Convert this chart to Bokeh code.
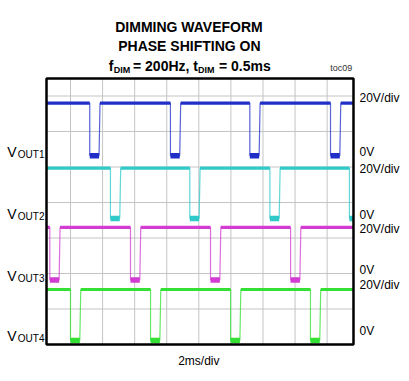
from bokeh.plotting import figure
from bokeh.models import Range1d
from bokeh.core.properties import value
from bokeh.embed import file_html
from bokeh.resources import INLINE

# ---------------- data ----------------
channel_names = ["OUT1", "OUT2", "OUT3", "OUT4"]
trace_colors = ["#1f2fc8", "#2fc9c9", "#d23cd2", "#33e033"]
ground_div = [5.32, 3.55, 1.82, 0.11]      # 0V reference of each trace (screen divisions)
high_volts = [29.6, 28.4, 29.6, 28.8]      # high level of each trace (V)
fall_ms = [                                # falling edges (ms, relative to first grid line)
    [1.20, 6.23, 11.18, 16.21],
    [2.49, 7.44, 12.43, 17.39],
    [-1.29, 3.74, 8.73, 13.72],
    [0.00, 4.99, 9.98, 14.96],
]
low_ms = 0.58                              # time spent at 0V per dimming pulse
rise_ms = 0.06
volts_per_div = 20
ms_per_div = 2
x_grid_ms = [0, 2, 4, 6, 8, 10, 12, 14, 16]
y_grid_div = [1, 2, 3, 4, 5, 6, 7]
scope_x = (-1.496, 17.643)                 # visible screen of the scope (ms)
scope_y = (0.0, 7.493)                     # visible screen of the scope (div)

# ---------------- layout (canvas pixels) ----------------
W, H = 405, 377
PX_PER_MS, PX_PER_DIV = 16.04, 35.5
X0_PX, Y0_PX = 70, 344                     # pixel of x=0 ms and y=0 div

p = figure(width=W, height=H, output_backend="svg", toolbar_location=None,
           x_axis_location=None, y_axis_location=None, title=None,
           x_range=Range1d(-X0_PX / PX_PER_MS, (W - X0_PX) / PX_PER_MS),
           y_range=Range1d((Y0_PX - H) / PX_PER_DIV, Y0_PX / PX_PER_DIV),
           min_border=0)
p.outline_line_color = None
p.background_fill_color = "white"
p.border_fill_color = "white"
p.grid.visible = False


def px_x(px):
    return (px - X0_PX) / PX_PER_MS


def px_y(py):
    return (Y0_PX - py) / PX_PER_DIV


xs0, xs1 = scope_x
ys0, ys1 = scope_y

# grid
p.segment(x0=x_grid_ms, y0=[ys0] * len(x_grid_ms), x1=x_grid_ms, y1=[ys1] * len(x_grid_ms),
          line_color="#c4c4c4", line_width=1)
p.segment(x0=[xs0] * len(y_grid_div), y0=y_grid_div, x1=[xs1] * len(y_grid_div), y1=y_grid_div,
          line_color="#c4c4c4", line_width=1)

# ---------------- traces ----------------
for col, g0, hv, falls in zip(trace_colors, ground_div, high_volts, fall_ms):
    lo = g0
    hi = g0 + hv / volts_per_div
    xs, ys = [xs0], [hi]
    hx0, hx1, lx0, lx1 = [], [], [], []
    prev = xs0
    for f in falls:
        xs += [f, f, min(f + low_ms, xs1), min(f + low_ms + rise_ms, xs1)]
        ys += [hi, lo, lo, hi if f + low_ms + rise_ms <= xs1 else lo]
        hx0.append(prev); hx1.append(f)
        lx0.append(f); lx1.append(min(f + low_ms, xs1))
        prev = f + low_ms + rise_ms
    if prev < xs1:
        xs.append(xs1); ys.append(hi)
        hx0.append(prev); hx1.append(xs1)
    p.line(xs, ys, line_color=col, line_width=1.2, line_alpha=0.75)
    p.segment(x0=hx0, y0=[hi] * len(hx0), x1=hx1, y1=[hi] * len(hx0),
              line_color=col, line_width=3.2)
    p.segment(x0=lx0, y0=[lo] * len(lx0), x1=lx1, y1=[lo] * len(lx0),
              line_color=col, line_width=5.5)

# scope frame
p.quad(left=[xs0], right=[xs1], bottom=[ys0], top=[ys1], fill_color=None,
       line_color="black", line_width=2.5)

# ---------------- texts ----------------
TF = "Liberation Sans"


def lab(text, px, py, size, style="normal", align="left", baseline="alphabetic", color="black"):
    p.text(x=[px_x(px)], y=[px_y(py)], text=[text], text_font=value(TF),
           text_font_size=size, text_font_style=style, text_align=align,
           text_baseline=baseline, text_color=color)


lab("DIMMING WAVEFORM", 188.5, 26.7, "14px", "bold", "center")
lab("PHASE SHIFTING ON", 188.9, 45, "14px", "bold", "center")
lab("f", 108.3, 65, "14px", "bold")
lab("DIM", 113.3, 69.5, "9px", "bold")
lab("= 200Hz, t", 132.5, 65, "14px", "bold")
lab("DIM", 197.5, 69.5, "9px", "bold")
lab("= 0.5ms", 218.5, 65, "14px", "bold")
lab("toc09", 351.7, 67, "9px", "normal", "right", "middle", "#333333")

left_baselines = [151, 213, 275, 335]
for name, bl in zip(channel_names, left_baselines):
    lab("V", 6.7, bl, "14px")
    lab(name, 17.3, bl + 3, "10px")

div_label_y = [97.3, 168, 228.5, 284]
zero_label_y = [151, 214, 269, 330]
for yd, yz in zip(div_label_y, zero_label_y):
    lab(f"{volts_per_div}V/div", 359, yd, "12px", baseline="middle")
    lab("0V", 359, yz, "12px", baseline="middle")

lab(f"{ms_per_div}ms/div", 198.3, 360, "12px", align="center")

open("out.html", "w").write(file_html(p, INLINE))
